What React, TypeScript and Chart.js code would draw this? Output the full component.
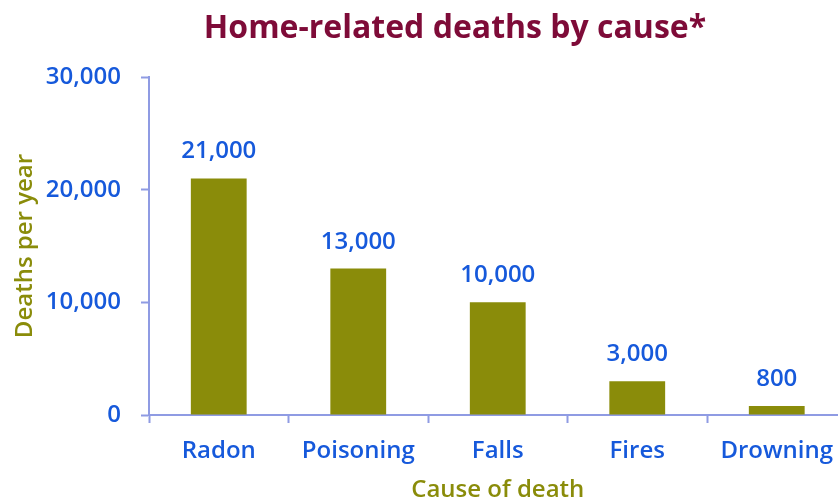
import React, { useEffect, useRef } from "react";
import { Chart, registerables } from "chart.js";

Chart.register(...registerables);

const categories = ["Radon", "Poisoning", "Falls", "Fires", "Drowning"];
const deaths = [21000, 13000, 10000, 3000, 800];
const yTicks = [0, 10000, 20000, 30000];
const titleText = "Home-related deaths by cause*";
const yTitle = "Deaths per year";
const xTitle = "Cause of death";

const FONT = "'Open Sans', sans-serif";
const BLUE = "#1659DB";
const OLIVE = "#8A8C0A";
const AXIS = "#8F9BE3";
const MAROON = "#7E0B38";

const fmt = (v: number) => v.toLocaleString("en-US");

const titlePlugin = {
  id: "customTitle",
  afterDraw(chart: any) {
    const ctx = chart.ctx;
    ctx.save();
    ctx.font = `700 32px ${FONT}`;
    ctx.fillStyle = MAROON;
    ctx.textAlign = "center";
    ctx.textBaseline = "alphabetic";
    ctx.fillText(titleText, 455, 38);
    ctx.restore();
  },
};

const valueLabels = {
  id: "valueLabels",
  afterDatasetsDraw(chart: any) {
    const ctx = chart.ctx;
    const meta = chart.getDatasetMeta(0);
    ctx.save();
    ctx.font = `600 24px ${FONT}`;
    ctx.fillStyle = BLUE;
    ctx.textAlign = "center";
    ctx.textBaseline = "alphabetic";
    meta.data.forEach((bar: any, i: number) => {
      ctx.fillText(fmt(deaths[i]), bar.x, bar.y - 20);
    });
    ctx.restore();
  },
};

export default function App() {
  const ref = useRef<HTMLCanvasElement | null>(null);
  useEffect(() => {
    if (!ref.current) return;
    const chart = new Chart(ref.current, {
      type: "bar",
      data: {
        labels: categories,
        datasets: [
          {
            data: deaths,
            backgroundColor: OLIVE,
            borderWidth: 0,
            barPercentage: 0.4,
            categoryPercentage: 1,
          },
        ],
      },
      options: {
        animation: false,
        responsive: false,
        maintainAspectRatio: false,
        layout: { padding: { top: 77, right: 13.5, bottom: 0, left: 0 } },
        plugins: { legend: { display: false }, tooltip: { enabled: false }, title: { display: false } },
        scales: {
          x: {
            afterFit: (s: any) => {
              s.height = 87;
            },
            grid: {
              offset: true,
              drawOnChartArea: false,
              drawTicks: true,
              tickLength: 8,
              tickWidth: 2,
              tickColor: AXIS,
              color: AXIS,
            },
            border: { color: AXIS, width: 2 },
            ticks: { color: BLUE, font: { family: FONT, size: 24, weight: 600 }, padding: 14, maxRotation: 0 },
            title: {
              display: true,
              text: xTitle,
              color: OLIVE,
              font: { family: FONT, size: 24, weight: 600, lineHeight: 1.0 },
              padding: { top: 0, bottom: 0 },
            },
          },
          y: {
            min: 0,
            max: 30000,
            afterFit: (s: any) => {
              s.width = 149;
            },
            afterBuildTicks: (s: any) => {
              s.ticks = yTicks.map((v) => ({ value: v }));
            },
            grid: {
              drawOnChartArea: false,
              drawTicks: true,
              tickLength: 8,
              tickWidth: 2,
              tickColor: AXIS,
              color: AXIS,
            },
            border: { color: AXIS, width: 2 },
            ticks: {
              color: BLUE,
              font: { family: FONT, size: 24, weight: 600 },
              padding: 20,
              callback: (v: any) => fmt(Number(v)),
            },
            title: {
              display: true,
              text: yTitle,
              color: OLIVE,
              font: { family: FONT, size: 24, weight: 600 },
              padding: { top: 11, bottom: 0 },
            },
          },
        },
      },
      plugins: [titlePlugin, valueLabels],
    });
    return () => chart.destroy();
  }, []);
  return (
    <div style={{ position: "fixed", left: 0, top: 0, width: 838, height: 502, overflow: "hidden", background: "#fff" }}>
      <canvas ref={ref} width={860} height={502} style={{ width: 860, height: 502, display: "block" }} />
    </div>
  );
}
